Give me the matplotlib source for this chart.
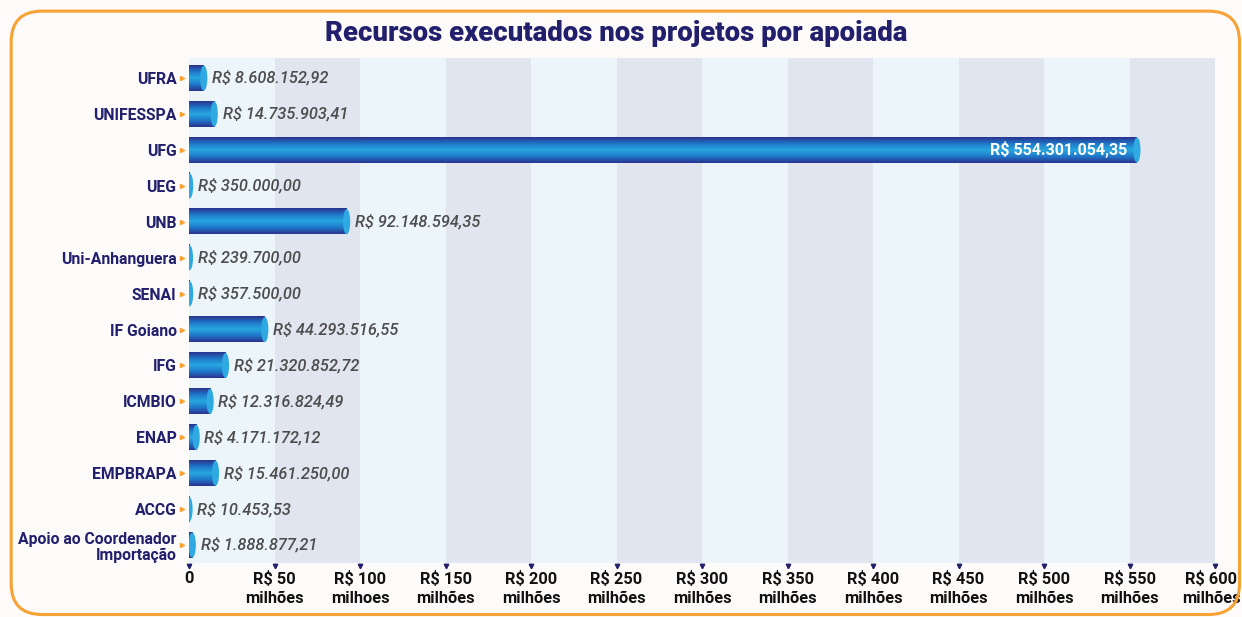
import matplotlib
matplotlib.use("Agg")
import matplotlib.pyplot as plt
import numpy as np
from matplotlib.colors import LinearSegmentedColormap
from matplotlib.patches import Ellipse, FancyBboxPatch
from matplotlib.transforms import ScaledTranslation, blended_transform_factory

plt.rcParams["font.family"] = ["Roboto", "DejaVu Sans"]

apoiadas = ["UFRA", "UNIFESSPA", "UFG", "UEG", "UNB", "Uni-Anhanguera", "SENAI",
            "IF Goiano", "IFG", "ICMBIO", "ENAP", "EMPBRAPA", "ACCG",
            "Apoio ao Coordenador\nImportação"]
valores = [8608152.92, 14735903.41, 554301054.35, 350000.00, 92148594.35, 239700.00,
           357500.00, 44293516.55, 21320852.72, 12316824.49, 4171172.12,
           15461250.00, 10453.53, 1888877.21]
rotulos = ["R$ 8.608.152,92", "R$ 14.735.903,41", "R$ 554.301.054,35", "R$ 350.000,00",
           "R$ 92.148.594,35", "R$ 239.700,00", "R$ 357.500,00", "R$ 44.293.516,55",
           "R$ 21.320.852,72", "R$ 12.316.824,49", "R$ 4.171.172,12", "R$ 15.461.250,00",
           "R$ 10.453,53", "R$ 1.888.877,21"]
x_ticks = [0, 50e6, 100e6, 150e6, 200e6, 250e6, 300e6, 350e6, 400e6, 450e6, 500e6, 550e6, 600e6]
x_labels = ["0", "R$ 50\nmilhões", "R$ 100\nmilhoes", "R$ 150\nmilhões", "R$ 200\nmilhões",
            "R$ 250\nmilhões", "R$ 300\nmilhões", "R$ 350\nmilhões", "R$ 400\nmilhões",
            "R$ 450\nmilhões", "R$ 500\nmilhões", "R$ 550\nmilhões", "R$ 600\nmilhões"]

navy = "#221f6d"
fig = plt.figure(figsize=(12.42, 6.17), dpi=100, facecolor="#fdfbf9")
ax = fig.add_axes([0.1522, 0.0875, 0.8261, 0.8185])
ax.set_facecolor("none")

# moldura laranja arredondada
fig.patches.append(FancyBboxPatch((0.009, 0.004), 0.989, 0.978, boxstyle="round,pad=0,rounding_size=0.025",
                                  transform=fig.transFigure, facecolor="none",
                                  edgecolor="#f6a234", linewidth=2.2, mutation_aspect=2.0))

fig.text(0.4965, 0.946, "Recursos executados nos projetos por apoiada", ha="center", va="center",
         fontsize=19.8, fontweight="black", color=navy)

# faixas de fundo
for i in range(len(x_ticks) - 1):
    ax.axvspan(x_ticks[i], x_ticks[i + 1], color="#ecf5fa" if i % 2 == 0 else "#e1e5ef", zorder=0, lw=0)

cmap = LinearSegmentedColormap.from_list("cil", ["#2a348f", "#1f77c9", "#27a8e0", "#1f77c9", "#2a348f"])
grad = np.linspace(0, 1, 64).reshape(-1, 1)
h = 0.7
cap_w = 4.2e6
y = np.arange(len(apoiadas))
for yi, v in zip(y, valores):
    ax.imshow(grad, extent=[0, v, yi + h / 2, yi - h / 2], aspect="auto", cmap=cmap,
              interpolation="bilinear", zorder=2)
    ax.add_patch(Ellipse((v, yi), cap_w, h, facecolor="#2ea9e2", edgecolor="none", zorder=3))

for yi, v, txt in zip(y, valores, rotulos):
    if v > 300e6:
        ax.annotate(txt, (v, yi), xytext=(-7, 0), textcoords="offset points", ha="right", va="center",
                    color="white", fontsize=11.5, fontweight="bold", zorder=4)
    else:
        ax.annotate(txt, (v, yi), xytext=(6, 0), textcoords="offset points", ha="left", va="center",
                    color="#4d4d4d", fontsize=11.8, fontstyle="italic", fontweight="medium", zorder=4)

ax.set_xlim(0, 600e6)
ax.set_ylim(len(apoiadas) - 0.5, -0.56)
ax.set_yticks(y)
ax.set_yticklabels(apoiadas, fontsize=11.3, fontweight="bold", color=navy, linespacing=1.15)
ax.set_xticks(x_ticks)
ax.set_xticklabels(x_labels, fontsize=11.8, fontweight="bold", color="#111111", linespacing=1.3)
ax.tick_params(axis="y", length=0, pad=9)
ax.tick_params(axis="x", length=0, pad=6)
for s in ax.spines.values():
    s.set_visible(False)

# o último rótulo encosta na borda
last = ax.get_xticklabels()[-1]
last.set_transform(last.get_transform() + ScaledTranslation(-4 / 100, 0, fig.dpi_scale_trans))

# marcadores de tick
ty = blended_transform_factory(ax.transAxes, ax.transData)
ax.plot([-0.0065] * len(y), y, ">", color="#f6a234", markersize=3, transform=ty, clip_on=False)
tx = blended_transform_factory(ax.transData, ax.transAxes)
ax.plot(x_ticks, [-0.006] * len(x_ticks), "v", color=navy, markersize=3.2, transform=tx, clip_on=False)

fig.savefig("out.png", dpi=100, facecolor=fig.get_facecolor())
plt.close(fig)
